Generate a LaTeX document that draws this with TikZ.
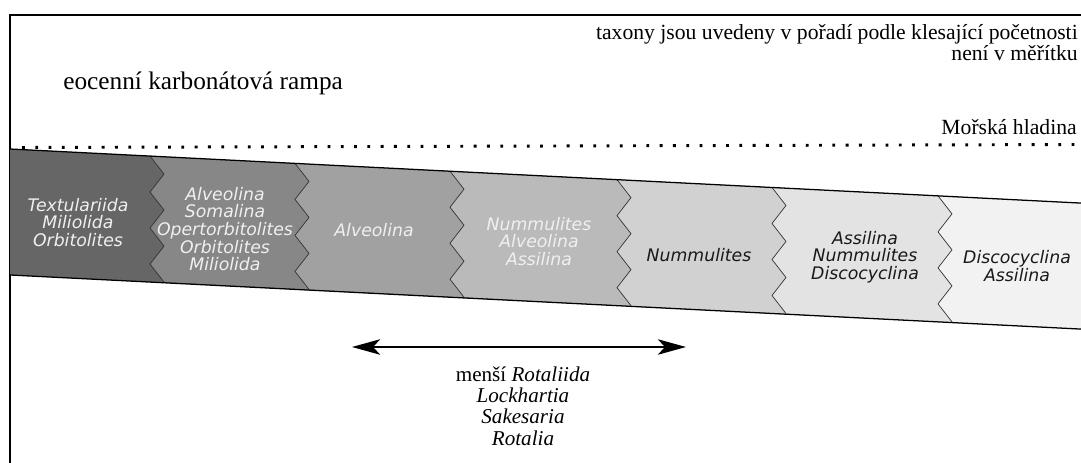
\documentclass[tikz,border=0pt]{standalone}
\usepackage{fontspec}
\setmainfont{Liberation Serif}
\newfontfamily\taxfont{DejaVu Sans}
\usetikzlibrary{arrows.meta}

\newcommand{\zigpath}{-- ++(14,18) -- ++(-14,18) -- ++(14,18) -- ++(-14,18) -- ++(14,18) -- ++(-14,18) -- ++(14,18)}

\tikzset{
	taxon/.style={font=\taxfont\itshape\fontsize{12.3}{12.6}\selectfont, align=center, inner sep=0pt},
	light/.style={taxon, text=white!94!black},
	dark/.style={taxon, text=black!90}
}

\begin{document}
\begin{tikzpicture}[x=0.25mm, y=-0.25mm]
	\useasboundingbox (0,0) rectangle (1081,463);
	\draw[line width=1.2pt] (1081,15) -- (10,15) -- (10,463);

	\coordinate[](tl) at (10,149);
	\coordinate[](tr) at (1081,203.1);
	\coordinate[](bl) at (10,275);
	\coordinate[](br) at (1081,329.1);
	\fill[black!60] (tl) -- (tr) -- (br) -- (bl) -- cycle;
	\foreach \xb/\tone in {150/47, 295/37, 450/27, 617/18, 772/11, 938/5}{
		\pgfmathsetmacro{\yb}{149+0.0505*(\xb-10)}
		\fill[black!\tone] (\xb,\yb) \zigpath -- (br) -- (tr) -- cycle;
		\draw[line width=0.5pt, black!80] (\xb,\yb) \zigpath;
	}
	\draw[line width=0.9pt] (tl) -- (tr);
	\draw[line width=0.9pt] (bl) -- (br);
	\coordinate[](hl) at (22,147.5);
	\coordinate[](hr) at (1081,144.5);
	\draw[line width=2.1pt, dash pattern=on 2pt off 7.45pt] (hl) -- (hr);

	\node[anchor=base west, inner sep=0pt, font=\fontsize{18}{20}\selectfont] (rampa) at (63,90) {eocenní karbonátová rampa};
	\node[anchor=east, align=right, inner sep=0pt, font=\fontsize{15.4}{11.4}\selectfont] (pozn) at (1078,43) {taxony jsou uvedeny v pořadí podle klesající početnosti\\není v měřítku};
	\node[anchor=base east, inner sep=0pt, font=\fontsize{15.4}{18}\selectfont] (hladina) at (1077,135) {Mořská hladina};

	\node[light] (z1) at (78,222.5) {Textulariida\\Miliolida\\Orbitolites};
	\node[light] (z2) at (225,229) {Alveolina\\Somalina\\Opertorbitolites\\Orbitolites\\Miliolida};
	\node[light] (z3) at (374,230) {Alveolina};
	\node[light] (z4) at (539,241.5) {Nummulites\\Alveolina\\Assilina};
	\node[dark] (z5) at (699,255) {Nummulites};
	\node[dark] (z6) at (865,257) {Assilina\\Nummulites\\Discocyclina};
	\node[dark] (z7) at (1017,266) {Discocyclina\\Assilina};

	\coordinate[](al) at (352,347);
	\coordinate[](ar) at (686,347);
	\draw[line width=1.4pt, {Stealth[length=20pt, width=11pt, inset=5pt]}-{Stealth[length=20pt, width=11pt, inset=5pt]}] (al) -- (ar);
	\node[align=center, inner sep=0pt, font=\fontsize{15}{15.1}\selectfont] (rot) at (523,406) {menší \textit{Rotaliida}\\\textit{Lockhartia}\\\textit{Sakesaria}\\\textit{Rotalia}};
\end{tikzpicture}
\end{document}
